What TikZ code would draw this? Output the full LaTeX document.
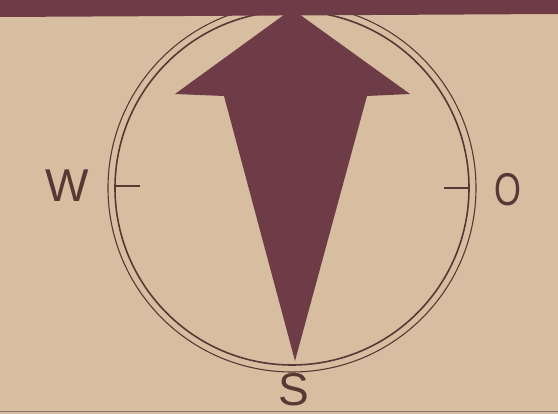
\documentclass[tikz,border=0pt]{standalone}
\usepackage{fontspec}
\setsansfont{Liberation Sans}
\usepackage{xcolor}
\definecolor{paper}{RGB}{215,190,160}
\definecolor{maroon}{RGB}{110,60,70}
\definecolor{ink}{RGB}{88,56,52}
\usepackage{tikz}
\usetikzlibrary{positioning, calc}

\tikzset{
  compass/.style={font=\sffamily\fontsize{46}{46}\selectfont, text=ink, inner sep=0pt},
  ring/.style={draw=ink}
}

\begin{document}
\begin{tikzpicture}[x=1pt, y=-1pt]
  \useasboundingbox (0,0) rectangle (558,414);
  \fill[paper] (0,0) rectangle (558,414);
  \coordinate (c) at (292,188);
  % rings
  \draw[ring, line width=1.1pt] (c) circle (184);
  \draw[ring, line width=1.6pt] (c) circle (177);
  \draw[ring, line width=1.4pt] ($(c)+(-177,-2)$) -- ++(25,0);
  \draw[ring, line width=1.4pt] ($(c)+(177,0)$) -- ++(-25,0);
  % arrow
  \fill[maroon] (292,9) -- (410,94) -- (367,96) -- (295,361)
    -- (224,96) -- (175,94) -- cycle;
  % band
  \fill[maroon] (0,0) -- (558,0) -- (558,14) -- (0,17) -- cycle;
  \draw[ink!70, line width=0.8pt] (0,411.5) -- (558,411.5);
  % letters
  \node[compass] (west) at (67,186) {W};
  \node[compass, xscale=0.75] (east) at (508,190) {O};
  \node[compass] (south) at (294,390) {S};
\end{tikzpicture}
\end{document}
